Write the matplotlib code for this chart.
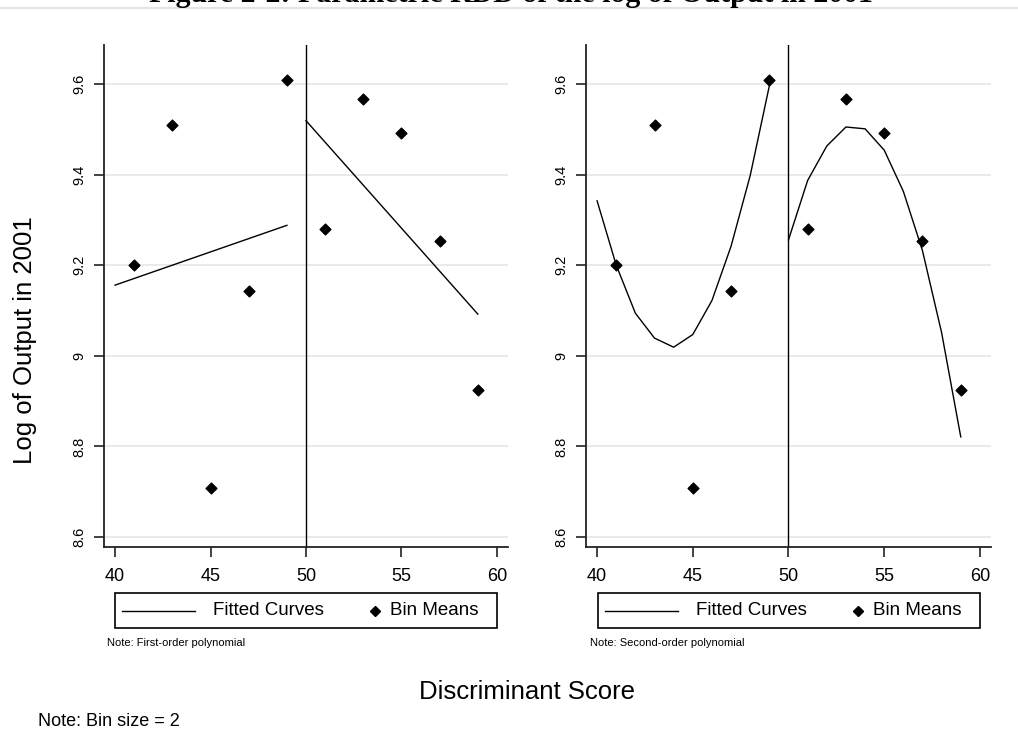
import matplotlib
matplotlib.use("Agg")
import matplotlib.pyplot as plt
from matplotlib.lines import Line2D
from matplotlib.patches import Rectangle

plt.rcParams['font.family'] = ['Liberation Sans', 'DejaVu Sans']

# ---- data ----
bin_x = [41, 43, 45, 47, 49, 51, 53, 55, 57, 59]
bin_y = [9.200, 9.509, 8.708, 9.144, 9.609, 9.279, 9.566, 9.492, 9.254, 8.924]

lin_left_x = [40, 49]
lin_left_y = [9.156, 9.288]
lin_right_x = [50, 59]
lin_right_y = [9.519, 9.092]

quad_left_x = [40, 41, 42, 43, 44, 45, 46, 47, 48, 49]
quad_left_y = [9.342, 9.200, 9.094, 9.039, 9.019, 9.047, 9.122, 9.242, 9.398, 9.596]
quad_right_x = [50, 51, 52, 53, 54, 55, 56, 57, 58, 59]
quad_right_y = [9.256, 9.387, 9.463, 9.505, 9.501, 9.454, 9.363, 9.232, 9.051, 8.821]

cutoff = 50
x_ticks = [40, 45, 50, 55, 60]
y_ticks = [8.6, 8.8, 9.0, 9.2, 9.4, 9.6]
y_ticklabels = ["8.6", "8.8", "9", "9.2", "9.4", "9.6"]
legend_labels = ["Fitted Curves", "Bin Means"]
notes = ["Note: First-order polynomial", "Note: Second-order polynomial"]

W, H = 1018, 742
fig = plt.figure(figsize=(W / 100, H / 100), dpi=100)

def fx(px):
    return px / W

def fy(py):
    return 1 - py / H

panels = [
    (104, 508, 115, [(lin_left_x, lin_left_y), (lin_right_x, lin_right_y)], notes[0]),
    (586, 991, 598, [(quad_left_x, quad_left_y), (quad_right_x, quad_right_y)], notes[1]),
]

for (l, r, x40, curves, note) in panels:
    ax = fig.add_axes([fx(l), fy(547), fx(r - l), (547 - 45) / H])
    ax.set_xlim(39.42, 60.58)
    ax.set_ylim(8.578, 9.686)
    for s in ['top', 'right']:
        ax.spines[s].set_visible(False)
    for s in ['left', 'bottom']:
        ax.spines[s].set_color('#222222')
        ax.spines[s].set_linewidth(1.3)
    ax.set_yticks(y_ticks)
    ax.set_yticklabels(y_ticklabels, rotation=90, va='center', fontsize=10.5)
    ax.set_xticks(x_ticks)
    ax.tick_params(axis='x', labelsize=13, length=7, width=1.2, color='#222222', pad=8)
    ax.tick_params(axis='y', length=7, width=1.2, color='#222222', pad=6)
    ax.grid(axis='y', color='#e6e6e6', linewidth=1.2)
    ax.set_axisbelow(True)
    ax.axvline(cutoff, color='black', linewidth=1.0)
    for cx, cy in curves:
        ax.plot(cx, cy, color='black', linewidth=1.0)
    ax.scatter(bin_x, bin_y, marker='D', s=30, color='black', zorder=3)

    # legend box drawn in figure pixel coordinates (offsets relative to the 40 tick)
    box = Rectangle((fx(x40), fy(628)), fx(382), (628 - 593) / H, transform=fig.transFigure,
                    facecolor='white', edgecolor='black', linewidth=1.2)
    fig.add_artist(box)
    yc = fy(610.5)
    fig.add_artist(Line2D([fx(x40 + 7), fx(x40 + 80)], [yc, yc], color='black',
                          linewidth=1.0, transform=fig.transFigure))
    fig.text(fx(x40 + 98), yc, legend_labels[0], fontsize=13.5, ha='left', va='center')
    fig.add_artist(Line2D([fx(x40 + 260)], [yc], marker='D', markersize=5.5,
                          color='black', linestyle='none', transform=fig.transFigure))
    fig.text(fx(x40 + 275), yc, legend_labels[1], fontsize=13.5, ha='left', va='center')
    fig.text(fx(x40 - 8), fy(643), note, fontsize=8, va='center', ha='left')

fig.text(fx(527), fy(692), "Discriminant Score", fontsize=18.5, ha='center', va='center')
fig.text(fx(25), fy(340), "Log of Output in 2001", fontsize=18.5, ha='center', va='center',
         rotation=90)
fig.text(fx(38), fy(722), "Note: Bin size = 2", fontsize=13, ha='left', va='center')

fig.text(fx(511), fy(1.5), "Figure 2-2: Parametric RDD of the log of Output in 2001",
         fontsize=21.5, ha='center', va='baseline', fontweight='bold',
         family=['Liberation Serif', 'DejaVu Serif'])
fig.add_artist(Line2D([0, 1], [fy(8), fy(8)], color='#e4e4e4', linewidth=1.5,
                      transform=fig.transFigure))

fig.savefig("out.png", dpi=100)
